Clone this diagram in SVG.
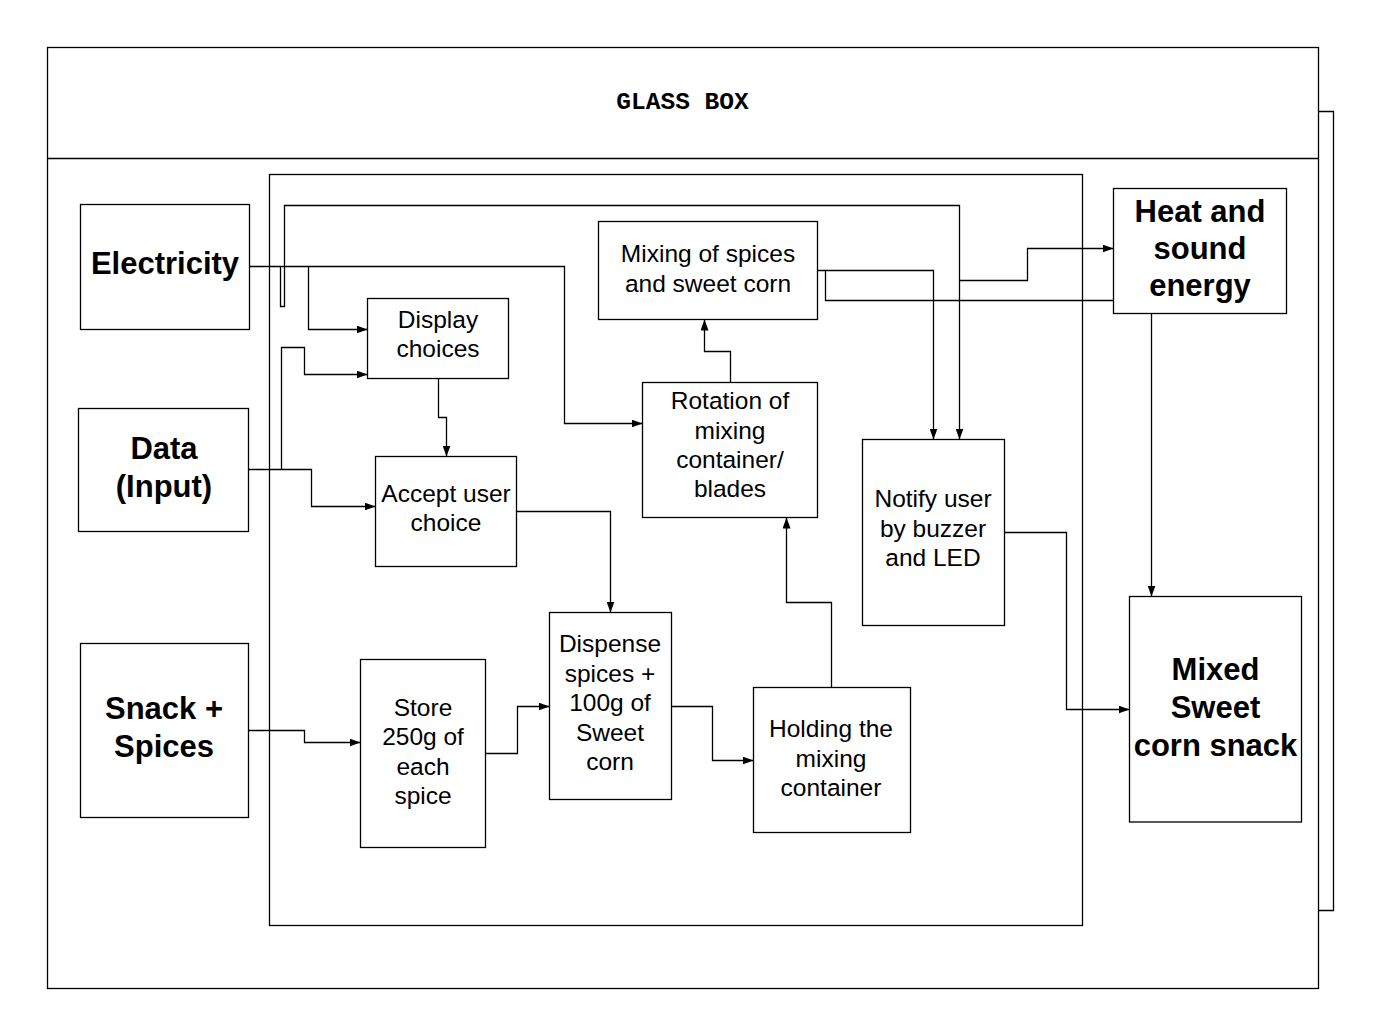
<svg xmlns="http://www.w3.org/2000/svg" width="1385" height="1031" viewBox="0 0 1385 1031">
<defs>
<style>
.box{fill:#fff;stroke:#000;stroke-width:1.3}
.frame{fill:none;stroke:#000;stroke-width:1.3}
.c{fill:none;stroke:#000;stroke-width:1.3}
.a{marker-end:url(#arr)}
.t{font-family:"Liberation Sans",Arial,sans-serif;font-size:24.5px;fill:#000;text-anchor:middle}
.b{font-family:"Liberation Sans",Arial,sans-serif;font-size:31px;font-weight:bold;fill:#000;text-anchor:middle}
.m{font-family:"Liberation Mono","Courier New",monospace;font-size:24.5px;font-weight:bold;fill:#000;text-anchor:middle}
</style>
<marker id="arr" viewBox="0 0 11 8" refX="11" refY="4" markerWidth="11" markerHeight="8" orient="auto" markerUnits="userSpaceOnUse">
<path d="M0,0 L11,4 L0,8 z" fill="#000"/>
</marker>
</defs>
<rect width="1385" height="1031" fill="#fff"/>

<g id="glass-box">
<path class="frame" d="M1318.5 111.5 H1333.5 V910.5 H1318.5"/>
<rect class="box" x="47.5" y="47.5" width="1271" height="941"/>
<line class="frame" x1="47.5" y1="158.5" x2="1318.5" y2="158.5"/>
<text class="m" x="682.5" y="109">GLASS BOX</text>
</g>

<g id="inner-box">
<rect class="frame" x="269.5" y="174.5" width="813" height="751"/>
</g>

<g id="electricity">
<rect class="box" x="80.5" y="204.5" width="169" height="125"/>
<text class="b" x="165" y="274">Electricity</text>
</g>
<g id="data">
<rect class="box" x="78.5" y="408.5" width="170" height="123"/>
<text class="b" x="164" y="459">Data</text>
<text class="b" x="164" y="497">(Input)</text>
</g>
<g id="snack">
<rect class="box" x="80.5" y="643.5" width="168" height="174"/>
<text class="b" x="164" y="719">Snack +</text>
<text class="b" x="164" y="757">Spices</text>
</g>
<g id="display">
<rect class="box" x="367.5" y="298.5" width="141" height="80"/>
<text class="t" x="438" y="328">Display</text>
<text class="t" x="438" y="357">choices</text>
</g>
<g id="accept">
<rect class="box" x="375.5" y="456.5" width="141" height="110"/>
<text class="t" x="446" y="502">Accept user</text>
<text class="t" x="446" y="531">choice</text>
</g>
<g id="mixing">
<rect class="box" x="598.5" y="221.5" width="219" height="98"/>
<text class="t" x="708" y="262">Mixing of spices</text>
<text class="t" x="708" y="292">and sweet corn</text>
</g>
<g id="rotation">
<rect class="box" x="642.5" y="382.5" width="175" height="135"/>
<text class="t" x="730" y="409">Rotation of</text>
<text class="t" x="730" y="439">mixing</text>
<text class="t" x="730" y="468">container/</text>
<text class="t" x="730" y="497">blades</text>
</g>
<g id="notify">
<rect class="box" x="862.5" y="439.5" width="142" height="186"/>
<text class="t" x="933" y="507">Notify user</text>
<text class="t" x="933" y="537">by buzzer</text>
<text class="t" x="933" y="566">and LED</text>
</g>
<g id="heat">
<rect class="box" x="1113.5" y="188.5" width="173" height="125"/>
<text class="b" x="1200" y="222">Heat and</text>
<text class="b" x="1200" y="259">sound</text>
<text class="b" x="1200" y="296">energy</text>
</g>
<g id="mixed">
<rect class="box" x="1129.5" y="596.5" width="172" height="225.5"/>
<text class="b" x="1215.5" y="680">Mixed</text>
<text class="b" x="1215.5" y="718">Sweet</text>
<text class="b" x="1215.5" y="756">corn snack</text>
</g>
<g id="store">
<rect class="box" x="360.5" y="659.5" width="125" height="188"/>
<text class="t" x="423" y="716">Store</text>
<text class="t" x="423" y="745">250g of</text>
<text class="t" x="423" y="775">each</text>
<text class="t" x="423" y="804">spice</text>
</g>
<g id="dispense">
<rect class="box" x="549.5" y="612.5" width="122" height="187"/>
<text class="t" x="610" y="652">Dispense</text>
<text class="t" x="610" y="682">spices +</text>
<text class="t" x="610" y="711">100g of</text>
<text class="t" x="610" y="741">Sweet</text>
<text class="t" x="610" y="770">corn</text>
</g>
<g id="holding">
<rect class="box" x="753.5" y="687.5" width="157" height="145"/>
<text class="t" x="831" y="737">Holding the</text>
<text class="t" x="831" y="767">mixing</text>
<text class="t" x="831" y="796">container</text>
</g>

<g id="connectors">
<path class="c a" d="M249.5 266.5 H564.5 V423.5 H642.5"/>
<path class="c a" d="M308.5 266.5 V329.5 H367.5"/>
<path class="c a" d="M280.5 266.5 V306.5 H284.5 V205.5 H959.5 V439.5"/>
<path class="c a" d="M248.5 469.5 H311.5 V506.5 H375.5"/>
<path class="c a" d="M281.5 469.5 V347.5 H304.5 V374.5 H367.5"/>
<path class="c a" d="M438.5 378.5 V417.5 H446.5 V456.5"/>
<path class="c a" d="M516.5 511.5 H610.5 V612.5"/>
<path class="c a" d="M730.5 382.5 V351.5 H704.5 V319.5"/>
<path class="c a" d="M817.5 270.5 H933.5 V439.5"/>
<path class="c" d="M1113.5 300.5 H825.5 V270.5"/>
<path class="c a" d="M959.5 280.5 H1027.5 V248.5 H1113.5"/>
<path class="c a" d="M1151.5 313.5 V596.5"/>
<path class="c a" d="M1004.5 532.5 H1066.5 V709.5 H1129.5"/>
<path class="c a" d="M248.5 730.5 H304.5 V742.5 H360.5"/>
<path class="c a" d="M485.5 753.5 H517.5 V706.5 H549.5"/>
<path class="c a" d="M671.5 706.5 H712.5 V760.5 H753.5"/>
<path class="c a" d="M831.5 687.5 V602.5 H786.5 V517.5"/>
</g>
</svg>
